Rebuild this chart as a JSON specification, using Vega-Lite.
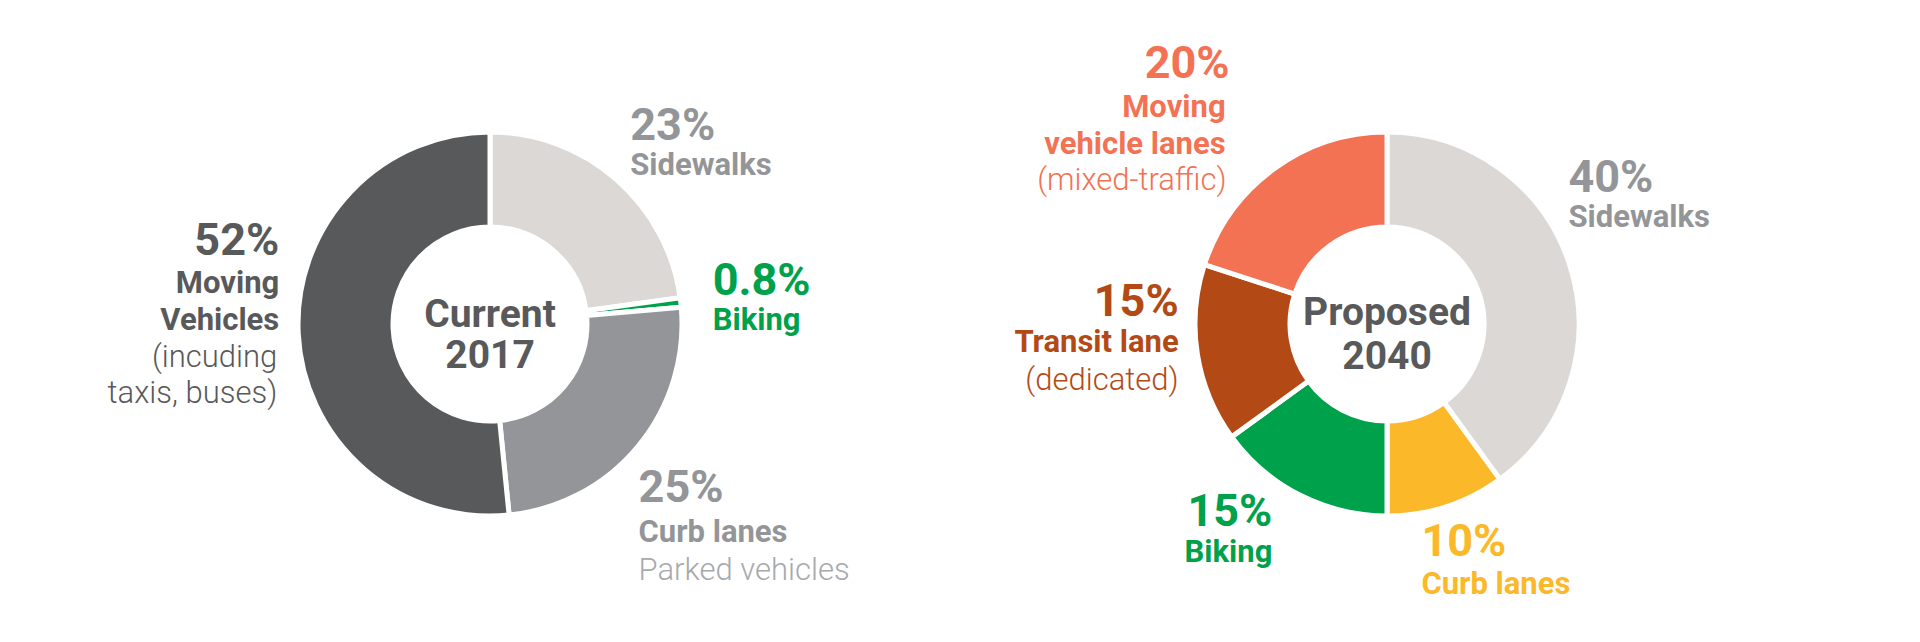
{
  "$schema": "https://vega.github.io/schema/vega-lite/v6.json",
  "background": "white",
  "padding": {"left": 0, "right": 0, "top": 6, "bottom": 0},
  "spacing": 0,
  "config": {"view": {"stroke": null}, "text": {"font": "Roboto"}},
  "resolve": {"scale": {"color": "independent", "theta": "independent"}},
  "hconcat": [
    {
      "width": 980,
      "height": 636,
      "data": {"values": [
        {"i": 1, "cat": "Sidewalks", "value": 23, "pct": "23%", "name": "Sidewalks"},
        {"i": 2, "cat": "Biking", "value": 0.8, "pct": "0.8%", "name": "Biking"},
        {"i": 3, "cat": "Curb lanes", "value": 25, "pct": "25%", "name": "Curb lanes", "sub": "Parked vehicles"},
        {"i": 4, "cat": "Moving", "value": 52, "pct": "52%", "name": "Moving\nVehicles", "sub": "(incuding\ntaxis, buses)"}
      ]},
      "layer": [
        {
          "mark": {"type": "arc", "innerRadius": 97, "outerRadius": 192, "stroke": "#ffffff", "strokeWidth": 5},
          "encoding": {
            "theta": {"field": "value", "type": "quantitative", "stack": true},
            "order": {"field": "i", "type": "quantitative"},
            "color": {"field": "cat", "type": "nominal", "legend": null,
              "scale": {"domain": ["Sidewalks", "Biking", "Curb lanes", "Moving"], "range": ["#dcd8d6", "#00a14b", "#939598", "#58595b"]}}
          }
        },
        {
          "data": {"values": [{"t": "Current\n2017"}]},
          "mark": {"type": "text", "align": "center", "baseline": "alphabetic", "dy": 3, "lineBreak": "\n", "lineHeight": 41, "fontSize": 39, "fontWeight": "bold", "fill": "#58595b"},
          "encoding": {"text": {"field": "t"}}
        },
        {
          "mark": {"type": "text", "radius": 215, "align": "left", "baseline": "alphabetic", "dx": -1, "dy": -22, "fontSize": 45, "fontWeight": "bold", "fill": "#939598"},
          "encoding": {"theta": {"field": "value", "type": "quantitative", "stack": true}, "order": {"field": "i", "type": "quantitative"},
            "text": {"condition": {"test": "datum.cat === 'Sidewalks'", "field": "pct"}, "value": ""}}
        },
        {
          "mark": {"type": "text", "radius": 215, "align": "left", "baseline": "alphabetic", "dx": -1, "dy": 13, "fontSize": 31, "fontWeight": "bold", "fill": "#939598"},
          "encoding": {"theta": {"field": "value", "type": "quantitative", "stack": true}, "order": {"field": "i", "type": "quantitative"},
            "text": {"condition": {"test": "datum.cat === 'Sidewalks'", "field": "name"}, "value": ""}}
        },
        {
          "mark": {"type": "text", "radius": 215, "align": "left", "baseline": "alphabetic", "dx": 9, "dy": -5, "fontSize": 45, "fontWeight": "bold", "fill": "#00a14b"},
          "encoding": {"theta": {"field": "value", "type": "quantitative", "stack": true}, "order": {"field": "i", "type": "quantitative"},
            "text": {"condition": {"test": "datum.cat === 'Biking'", "field": "pct"}, "value": ""}}
        },
        {
          "mark": {"type": "text", "radius": 215, "align": "left", "baseline": "alphabetic", "dx": 9, "dy": 30, "fontSize": 31, "fontWeight": "bold", "fill": "#00a14b"},
          "encoding": {"theta": {"field": "value", "type": "quantitative", "stack": true}, "order": {"field": "i", "type": "quantitative"},
            "text": {"condition": {"test": "datum.cat === 'Biking'", "field": "name"}, "value": ""}}
        },
        {
          "mark": {"type": "text", "radius": 215, "align": "left", "baseline": "alphabetic", "dx": -17, "dy": 41, "fontSize": 45, "fontWeight": "bold", "fill": "#939598"},
          "encoding": {"theta": {"field": "value", "type": "quantitative", "stack": true}, "order": {"field": "i", "type": "quantitative"},
            "text": {"condition": {"test": "datum.cat === 'Curb lanes'", "field": "pct"}, "value": ""}}
        },
        {
          "mark": {"type": "text", "radius": 215, "align": "left", "baseline": "alphabetic", "dx": -17, "dy": 81, "fontSize": 31, "fontWeight": "bold", "fill": "#939598"},
          "encoding": {"theta": {"field": "value", "type": "quantitative", "stack": true}, "order": {"field": "i", "type": "quantitative"},
            "text": {"condition": {"test": "datum.cat === 'Curb lanes'", "field": "name"}, "value": ""}}
        },
        {
          "mark": {"type": "text", "radius": 215, "align": "left", "baseline": "alphabetic", "dx": -17, "dy": 119, "fontSize": 31, "fontWeight": 300, "fill": "#a7a9ac"},
          "encoding": {"theta": {"field": "value", "type": "quantitative", "stack": true}, "order": {"field": "i", "type": "quantitative"},
            "text": {"condition": {"test": "datum.cat === 'Curb lanes'", "field": "sub"}, "value": ""}}
        },
        {
          "mark": {"type": "text", "radius": 215, "align": "right", "baseline": "alphabetic", "dx": 4, "dy": -80, "fontSize": 45, "fontWeight": "bold", "fill": "#58595b"},
          "encoding": {"theta": {"field": "value", "type": "quantitative", "stack": true}, "order": {"field": "i", "type": "quantitative"},
            "text": {"condition": {"test": "datum.cat === 'Moving'", "field": "pct"}, "value": ""}}
        },
        {
          "mark": {"type": "text", "radius": 215, "align": "right", "baseline": "alphabetic", "dx": 4, "dy": -42, "lineBreak": "\n", "lineHeight": 37, "fontSize": 31, "fontWeight": "bold", "fill": "#58595b"},
          "encoding": {"theta": {"field": "value", "type": "quantitative", "stack": true}, "order": {"field": "i", "type": "quantitative"},
            "text": {"condition": {"test": "datum.cat === 'Moving'", "field": "name"}, "value": ""}}
        },
        {
          "mark": {"type": "text", "radius": 215, "align": "right", "baseline": "alphabetic", "dx": 2, "dy": 32, "lineBreak": "\n", "lineHeight": 36, "fontSize": 31, "fontWeight": 300, "fill": "#58595b"},
          "encoding": {"theta": {"field": "value", "type": "quantitative", "stack": true}, "order": {"field": "i", "type": "quantitative"},
            "text": {"condition": {"test": "datum.cat === 'Moving'", "field": "sub"}, "value": ""}}
        }
      ]
    },
    {
      "width": 814,
      "height": 636,
      "data": {"values": [
        {"i": 1, "cat": "Sidewalks", "value": 40, "pct": "40%", "name": "Sidewalks"},
        {"i": 2, "cat": "Curb lanes", "value": 10, "pct": "10%", "name": "Curb lanes"},
        {"i": 3, "cat": "Biking", "value": 15, "pct": "15%", "name": "Biking"},
        {"i": 4, "cat": "Transit", "value": 15, "pct": "15%", "name": "Transit lane", "sub": "(dedicated)"},
        {"i": 5, "cat": "Moving", "value": 20, "pct": "20%", "name": "Moving\nvehicle lanes", "sub": "(mixed-traffic)"}
      ]},
      "layer": [
        {
          "mark": {"type": "arc", "innerRadius": 97, "outerRadius": 192, "stroke": "#ffffff", "strokeWidth": 5},
          "encoding": {
            "theta": {"field": "value", "type": "quantitative", "stack": true},
            "order": {"field": "i", "type": "quantitative"},
            "color": {"field": "cat", "type": "nominal", "legend": null,
              "scale": {"domain": ["Sidewalks", "Curb lanes", "Biking", "Transit", "Moving"], "range": ["#dcd8d6", "#fbb829", "#00a14b", "#b34a16", "#f37254"]}}
          }
        },
        {
          "data": {"values": [{"t": "Proposed\n2040"}]},
          "mark": {"type": "text", "align": "center", "baseline": "alphabetic", "dy": 1, "lineBreak": "\n", "lineHeight": 44, "fontSize": 39, "fontWeight": "bold", "fill": "#58595b"},
          "encoding": {"text": {"field": "t"}}
        },
        {
          "mark": {"type": "text", "radius": 215, "align": "left", "baseline": "alphabetic", "dx": -23, "dy": -66, "fontSize": 45, "fontWeight": "bold", "fill": "#939598"},
          "encoding": {"theta": {"field": "value", "type": "quantitative", "stack": true}, "order": {"field": "i", "type": "quantitative"},
            "text": {"condition": {"test": "datum.cat === 'Sidewalks'", "field": "pct"}, "value": ""}}
        },
        {
          "mark": {"type": "text", "radius": 215, "align": "left", "baseline": "alphabetic", "dx": -23, "dy": -31, "fontSize": 31, "fontWeight": "bold", "fill": "#939598"},
          "encoding": {"theta": {"field": "value", "type": "quantitative", "stack": true}, "order": {"field": "i", "type": "quantitative"},
            "text": {"condition": {"test": "datum.cat === 'Sidewalks'", "field": "name"}, "value": ""}}
        },
        {
          "mark": {"type": "text", "radius": 215, "align": "left", "baseline": "alphabetic", "dx": -32, "dy": 28, "fontSize": 45, "fontWeight": "bold", "fill": "#fbb829"},
          "encoding": {"theta": {"field": "value", "type": "quantitative", "stack": true}, "order": {"field": "i", "type": "quantitative"},
            "text": {"condition": {"test": "datum.cat === 'Curb lanes'", "field": "pct"}, "value": ""}}
        },
        {
          "mark": {"type": "text", "radius": 215, "align": "left", "baseline": "alphabetic", "dx": -32, "dy": 66, "fontSize": 31, "fontWeight": "bold", "fill": "#fbb829"},
          "encoding": {"theta": {"field": "value", "type": "quantitative", "stack": true}, "order": {"field": "i", "type": "quantitative"},
            "text": {"condition": {"test": "datum.cat === 'Curb lanes'", "field": "name"}, "value": ""}}
        },
        {
          "mark": {"type": "text", "radius": 215, "align": "right", "baseline": "alphabetic", "dx": -17, "dy": 10, "fontSize": 45, "fontWeight": "bold", "fill": "#00a14b"},
          "encoding": {"theta": {"field": "value", "type": "quantitative", "stack": true}, "order": {"field": "i", "type": "quantitative"},
            "text": {"condition": {"test": "datum.cat === 'Biking'", "field": "pct"}, "value": ""}}
        },
        {
          "mark": {"type": "text", "radius": 215, "align": "right", "baseline": "alphabetic", "dx": -17, "dy": 46, "fontSize": 31, "fontWeight": "bold", "fill": "#00a14b"},
          "encoding": {"theta": {"field": "value", "type": "quantitative", "stack": true}, "order": {"field": "i", "type": "quantitative"},
            "text": {"condition": {"test": "datum.cat === 'Biking'", "field": "name"}, "value": ""}}
        },
        {
          "mark": {"type": "text", "radius": 215, "align": "right", "baseline": "alphabetic", "dx": 4, "dy": -42, "fontSize": 45, "fontWeight": "bold", "fill": "#b34a16"},
          "encoding": {"theta": {"field": "value", "type": "quantitative", "stack": true}, "order": {"field": "i", "type": "quantitative"},
            "text": {"condition": {"test": "datum.cat === 'Transit'", "field": "pct"}, "value": ""}}
        },
        {
          "mark": {"type": "text", "radius": 215, "align": "right", "baseline": "alphabetic", "dx": 4, "dy": -6, "fontSize": 31, "fontWeight": "bold", "fill": "#b34a16"},
          "encoding": {"theta": {"field": "value", "type": "quantitative", "stack": true}, "order": {"field": "i", "type": "quantitative"},
            "text": {"condition": {"test": "datum.cat === 'Transit'", "field": "name"}, "value": ""}}
        },
        {
          "mark": {"type": "text", "radius": 215, "align": "right", "baseline": "alphabetic", "dx": 4, "dy": 32, "fontSize": 31, "fontWeight": 300, "fill": "#b34a16"},
          "encoding": {"theta": {"field": "value", "type": "quantitative", "stack": true}, "order": {"field": "i", "type": "quantitative"},
            "text": {"condition": {"test": "datum.cat === 'Transit'", "field": "sub"}, "value": ""}}
        },
        {
          "mark": {"type": "text", "radius": 215, "align": "right", "baseline": "alphabetic", "dx": -31, "dy": -72, "fontSize": 45, "fontWeight": "bold", "fill": "#f37254"},
          "encoding": {"theta": {"field": "value", "type": "quantitative", "stack": true}, "order": {"field": "i", "type": "quantitative"},
            "text": {"condition": {"test": "datum.cat === 'Moving'", "field": "pct"}, "value": ""}}
        },
        {
          "mark": {"type": "text", "radius": 215, "align": "right", "baseline": "alphabetic", "dx": -35, "dy": -33, "lineBreak": "\n", "lineHeight": 37, "fontSize": 31, "fontWeight": "bold", "fill": "#f37254"},
          "encoding": {"theta": {"field": "value", "type": "quantitative", "stack": true}, "order": {"field": "i", "type": "quantitative"},
            "text": {"condition": {"test": "datum.cat === 'Moving'", "field": "name"}, "value": ""}}
        },
        {
          "mark": {"type": "text", "radius": 215, "align": "right", "baseline": "alphabetic", "dx": -34, "dy": 40, "fontSize": 31, "fontWeight": 300, "fill": "#f37254"},
          "encoding": {"theta": {"field": "value", "type": "quantitative", "stack": true}, "order": {"field": "i", "type": "quantitative"},
            "text": {"condition": {"test": "datum.cat === 'Moving'", "field": "sub"}, "value": ""}}
        }
      ]
    }
  ]
}
